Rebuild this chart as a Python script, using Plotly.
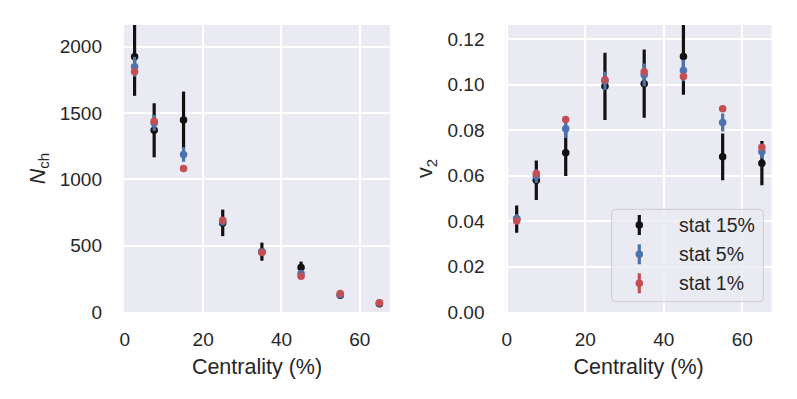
"""Centrality dependence of N_ch and v2 for three statistics levels."""

import plotly.graph_objects as go

# The page body keeps a default 8px margin, so the figure is drawn smaller
# and every pixel position below is given in window coordinates.
PAGE_OFFSET = 8
WIDTH = 797 - PAGE_OFFSET
HEIGHT = 399 - PAGE_OFFSET

centrality = [2.5, 7.5, 15, 25, 35, 45, 55, 65]

nch_15 = [1925, 1370, 1447, 672, 455, 335, 126, 63]
nch_15_err = [295, 204, 215, 100, 68, 45, 15, 10]
nch_5 = [1849, 1426, 1188, 682, 455, 290, 130, 67]
nch_5_err = [75, 60, 55, 30, 20, 15, 8, 5]
nch_1 = [1811, 1439, 1082, 692, 448, 269, 139, 70]
nch_1_err = [20, 15, 12, 8, 6, 4, 3, 2]

v2_15 = [0.0409, 0.058, 0.0701, 0.0993, 0.1005, 0.1124, 0.0683, 0.0655]
v2_15_err = [0.006, 0.0087, 0.0103, 0.0148, 0.015, 0.0168, 0.0103, 0.0097]
v2_5 = [0.041, 0.0598, 0.0806, 0.1017, 0.1044, 0.1063, 0.0834, 0.0705]
v2_5_err = [0.002, 0.003, 0.004, 0.004, 0.005, 0.0047, 0.004, 0.003]
v2_1 = [0.0401, 0.0609, 0.0847, 0.1022, 0.1057, 0.1036, 0.0894, 0.0725]
v2_1_err = [0.0008, 0.001, 0.0012, 0.0015, 0.0015, 0.0015, 0.0012, 0.001]

labels = ["stat 15%", "stat 5%", "stat 1%"]
colors = ["#111111", "#4C72B0", "#C44E52"]

FONT = "Liberation Sans, Arial, sans-serif"
TEXT_COLOR = "#262626"
BG = "#EAEAF2"


def px(x):
    return (x - PAGE_OFFSET) / WIDTH


def py(y):
    return 1 - (y - PAGE_OFFSET) / HEIGHT


def add_series(fig, y_values, errors, color, xaxis, yaxis):
    fig.add_trace(
        go.Scatter(
            x=centrality,
            y=y_values,
            mode="markers",
            marker={"color": color, "size": 7.5},
            error_y={
                "type": "data",
                "array": errors,
                "color": color,
                "thickness": 3.2,
                "width": 0,
            },
            xaxis=xaxis,
            yaxis=yaxis,
            showlegend=False,
        )
    )


fig = go.Figure()

left_series = [(nch_15, nch_15_err), (nch_5, nch_5_err), (nch_1, nch_1_err)]
right_series = [(v2_15, v2_15_err), (v2_5, v2_5_err), (v2_1, v2_1_err)]

for (values, errors), color in zip(left_series, colors):
    add_series(fig, values, errors, color, "x", "y")

for (values, errors), color in zip(right_series, colors):
    add_series(fig, values, errors, color, "x2", "y2")

axis_common = {
    "showgrid": True,
    "gridcolor": "white",
    "gridwidth": 1.5,
    "zeroline": False,
    "showline": False,
    "ticks": "",
    "automargin": False,
    "tickfont": {"size": 19, "color": TEXT_COLOR, "family": FONT},
    "title_font": {"size": 21.5, "color": TEXT_COLOR, "family": FONT},
}

y_domain = [py(312), py(25)]

fig.update_layout(
    width=WIDTH,
    height=HEIGHT,
    margin={"l": 0, "r": 0, "t": 0, "b": 0},
    paper_bgcolor="white",
    plot_bgcolor=BG,
    font={"family": FONT, "color": TEXT_COLOR},
    xaxis={
        **axis_common,
        "domain": [px(124), px(390)],
        "range": [-0.2, 67.7],
        "tickvals": [0, 20, 40, 60],
        "ticklabelstandoff": 14,
        "title": {"text": "Centrality (%)", "standoff": 9},
    },
    yaxis={
        **axis_common,
        "domain": y_domain,
        "range": [0, 2164],
        "tickvals": [0, 500, 1000, 1500, 2000],
        "ticklabelstandoff": 21,
        "title": {"text": "<i>N</i><sub>ch</sub>", "standoff": 8},
    },
    xaxis2={
        **axis_common,
        "domain": [px(505.5), px(771.7)],
        "range": [-0.35, 67.5],
        "tickvals": [0, 20, 40, 60],
        "ticklabelstandoff": 14,
        "anchor": "y2",
        "title": {"text": "Centrality (%)", "standoff": 9},
    },
    yaxis2={
        **axis_common,
        "domain": y_domain,
        "range": [0, 0.1263],
        "tickvals": [0, 0.02, 0.04, 0.06, 0.08, 0.10, 0.12],
        "tickformat": ".2f",
        "ticklabelstandoff": 20,
        "anchor": "x2",
        "title": {"text": "v<sub>2</sub>", "standoff": 8},
    },
)

# Legend drawn by hand so each entry carries its vertical error bar.
box_x0, box_x1 = 611.7, 763.3
box_y0, box_y1 = 209.3, 301.7
radius = 4
corner_path = (
    f"M {px(box_x0 + radius)},{py(box_y0)} "
    f"L {px(box_x1 - radius)},{py(box_y0)} "
    f"Q {px(box_x1)},{py(box_y0)} {px(box_x1)},{py(box_y0 + radius)} "
    f"L {px(box_x1)},{py(box_y1 - radius)} "
    f"Q {px(box_x1)},{py(box_y1)} {px(box_x1 - radius)},{py(box_y1)} "
    f"L {px(box_x0 + radius)},{py(box_y1)} "
    f"Q {px(box_x0)},{py(box_y1)} {px(box_x0)},{py(box_y1 - radius)} "
    f"L {px(box_x0)},{py(box_y0 + radius)} "
    f"Q {px(box_x0)},{py(box_y0)} {px(box_x0 + radius)},{py(box_y0)} Z"
)
fig.add_shape(
    type="path",
    path=corner_path,
    xref="paper",
    yref="paper",
    fillcolor="rgba(234,234,242,0.8)",
    line={"color": "#CCCCCC", "width": 1},
    layer="above",
)

entry_rows = [225, 254.3, 283.3]
symbol_x = 639.3
text_x = 676.7
for label, color, row in zip(labels, colors, entry_rows):
    fig.add_shape(
        type="line",
        xref="paper",
        yref="paper",
        x0=px(symbol_x),
        x1=px(symbol_x),
        y0=py(row - 10),
        y1=py(row + 10),
        line={"color": color, "width": 3.2},
        layer="above",
    )
    fig.add_shape(
        type="circle",
        xref="paper",
        yref="paper",
        x0=px(symbol_x - 3.75),
        x1=px(symbol_x + 3.75),
        y0=py(row - 3.75),
        y1=py(row + 3.75),
        fillcolor=color,
        line={"width": 0},
        layer="above",
    )
    fig.add_annotation(
        x=px(text_x),
        y=py(row),
        xref="paper",
        yref="paper",
        text=label,
        showarrow=False,
        xanchor="left",
        yanchor="middle",
        font={"size": 19.5, "color": TEXT_COLOR, "family": FONT},
    )

fig.write_html("out.html")
